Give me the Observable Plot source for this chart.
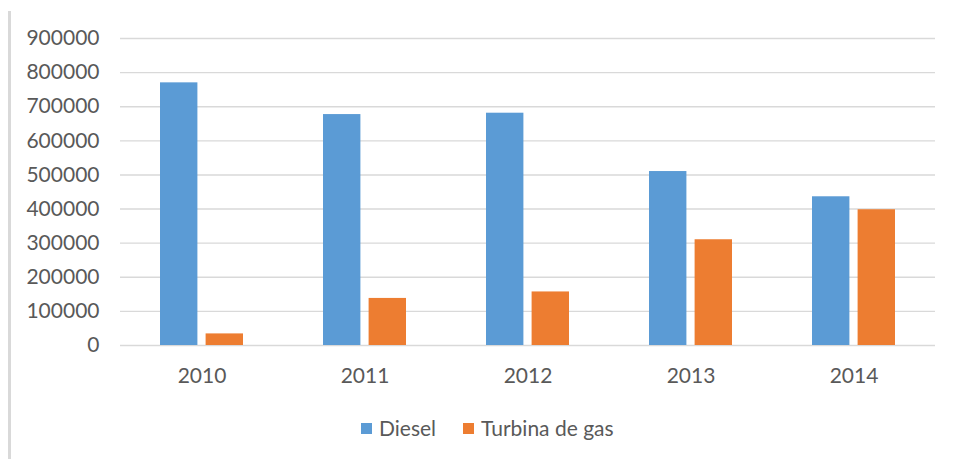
<!DOCTYPE html>
<html>
<head>
<meta charset="utf-8">
<script src="https://cdn.jsdelivr.net/npm/d3@7"></script>
<script src="https://cdn.jsdelivr.net/npm/@observablehq/plot@0.6"></script>
<style>
  body { margin: 0; background: #fff; font-family: Lato, "Open Sans", sans-serif; }
  #wrap { position: relative; width: 953px; height: 459px; overflow: hidden; }
  #edge { position: absolute; left: 8px; top: 11px; width: 3px; bottom: 0; background: #d9d9d9; }
  #chart { position: absolute; left: 0; top: 0; }
  #legend { position: absolute; left: 361px; top: 416px; display: flex; align-items: center; font-size: 21px; line-height: 24px; color: #595959; white-space: nowrap; }
  .item { display: flex; align-items: center; margin-right: 27px; }
  .sw { width: 11px; height: 11px; margin-right: 7px; }
</style>
</head>
<body>
<div id="wrap">
  <div id="edge"></div>
  <div id="chart"></div>
  <div id="legend"></div>
</div>
<script>
const years = ["2010", "2011", "2012", "2013", "2014"];
const seriesNames = ["Diesel", "Turbina de gas"];
const diesel = [770000, 677000, 681000, 510000, 436000];
const turbina = [34000, 138000, 157000, 310000, 398000];
const yTicks = [0, 100000, 200000, 300000, 400000, 500000, 600000, 700000, 800000, 900000];
const colors = ["#5B9BD5", "#ED7D31"];

const dieselData = years.map((y, i) => ({year: y, value: diesel[i]}));
const turbinaData = years.map((y, i) => ({year: y, value: turbina[i]}));

const chart = Plot.plot({
  width: 953,
  height: 400,
  marginLeft: 120,
  marginRight: 18,
  marginTop: 38,
  marginBottom: 55,
  style: { fontFamily: "Lato, 'Open Sans', sans-serif", fontSize: "21px", color: "#595959", background: "transparent" },
  x: { type: "band", domain: years, paddingInner: 0.493, paddingOuter: 0.2465, label: null, tickSize: 0, tickPadding: 23 },
  y: { domain: [0, 900000], ticks: yTicks, tickFormat: d => String(d), label: null, tickSize: 0, tickPadding: 21 },
  marks: [
    Plot.gridY(yTicks, { stroke: "#d9d9d9", strokeOpacity: 1, strokeWidth: 1.4 }),
    Plot.barY(dieselData, { x: "year", y: "value", fill: colors[0], insetLeft: 0, insetRight: 45.6 }),
    Plot.barY(turbinaData, { x: "year", y: "value", fill: colors[1], insetLeft: 45.6, insetRight: 0 })
  ]
});
document.getElementById("chart").appendChild(chart);

const legend = document.getElementById("legend");
seriesNames.forEach((name, i) => {
  const item = document.createElement("div");
  item.className = "item";
  const sw = document.createElement("span");
  sw.className = "sw";
  sw.style.background = colors[i];
  const label = document.createElement("span");
  label.textContent = name;
  item.appendChild(sw);
  item.appendChild(label);
  legend.appendChild(item);
});
</script>
</body>
</html>
